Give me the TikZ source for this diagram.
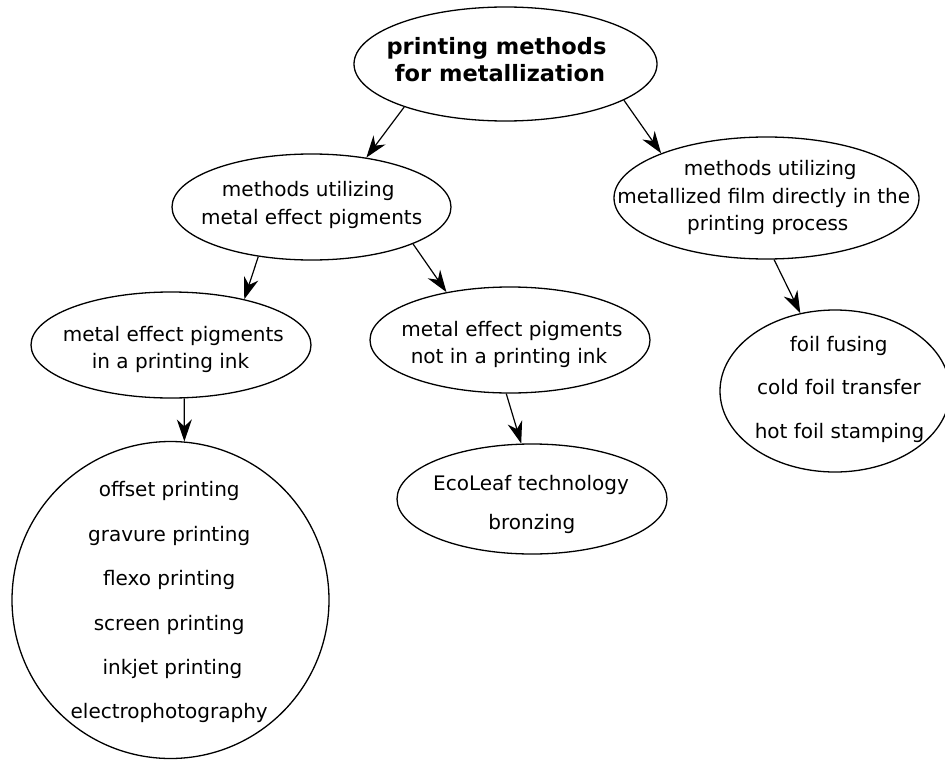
\documentclass[tikz,border=0pt]{standalone}
\usepackage{fontspec}
\setmainfont{DejaVu Sans}
\usetikzlibrary{shapes.geometric,arrows.meta}
\begin{document}
\begin{tikzpicture}[x=1pt,y=-1pt,
  el/.style={draw,ellipse,line width=1.3pt,inner sep=0pt},
  txt/.style={anchor=base,inner sep=0pt,font=\fontsize{20}{24}\selectfont},
  btxt/.style={anchor=base,inner sep=0pt,font=\fontsize{22.5}{26}\selectfont\bfseries},
  arr/.style={line width=1.2pt,-{Stealth[length=22pt,width=15pt,inset=7pt]}}]
\useasboundingbox (0,0) rectangle (945,760);

% ellipses
\node[el,minimum width=303pt,minimum height=114pt] (top) at (505.5,64) {};
\node[el,minimum width=279pt,minimum height=106pt] (mid) at (311.5,207) {};
\node[el,minimum width=305pt,minimum height=122pt] (film) at (766.5,198) {};
\node[el,minimum width=280pt,minimum height=106pt] (ink) at (171,345) {};
\node[el,minimum width=280pt,minimum height=106pt] (noink) at (510,340) {};
\node[el,minimum width=230pt,minimum height=162pt] (foil) at (835,391) {};
\node[el,minimum width=270pt,minimum height=110pt] (eco) at (532,499) {};
\node[el,minimum width=317pt,minimum height=317pt] (print) at (170.5,600) {};

% texts
\node[btxt] (t1a) at (496.5,55) {printing methods};
\node[btxt] (t1b) at (500,81.7) {for metallization};

\node[txt] (t2a) at (308.3,196.7) {methods utilizing};
\node[txt] (t2b) at (311.7,224) {metal effect pigments};

\node[txt] (t3a) at (770.3,175.7) {methods utilizing};
\node[txt] (t3b) at (763.8,203.3) {metallized film directly in the};
\node[txt] (t3c) at (767.8,230) {printing process};

\node[txt] (t4a) at (173.3,341) {metal effect pigments};
\node[txt] (t4b) at (170.5,368.3) {in a printing ink};

\node[txt] (t5a) at (512,336) {metal effect pigments};
\node[txt] (t5b) at (509,363.3) {not in a printing ink};

\node[txt] (t6a) at (838.7,351.7) {foil fusing};
\node[txt] (t6b) at (839,394.3) {cold foil transfer};
\node[txt] (t6c) at (839.5,438.3) {hot foil stamping};

\node[txt] (t7a) at (531,490) {EcoLeaf technology};
\node[txt] (t7b) at (531.8,529.3) {bronzing};

\node[txt] (t8a) at (169.2,496.7) {offset printing};
\node[txt] (t8b) at (169.2,541) {gravure printing};
\node[txt] (t8c) at (169.2,585.7) {flexo printing};
\node[txt] (t8d) at (169.2,630) {screen printing};
\node[txt] (t8e) at (172.5,674.3) {inkjet printing};
\node[txt] (t8f) at (169.2,718.3) {electrophotography};

% connectors
\draw[arr] (top.203.6) -- (mid.42.6);
\draw[arr] (top.343) -- (film.157);
\draw[arr] (mid.223.6) -- (ink.32.8);
\draw[arr] (mid.340) -- (noink.143.6);
\draw[arr] (film.277.7) -- (foil.114);
\draw[arr] (ink.284.5) -- (print.85.8);
\draw[arr] (noink.266.9) -- (eco.101.9);
\end{tikzpicture}
\end{document}
